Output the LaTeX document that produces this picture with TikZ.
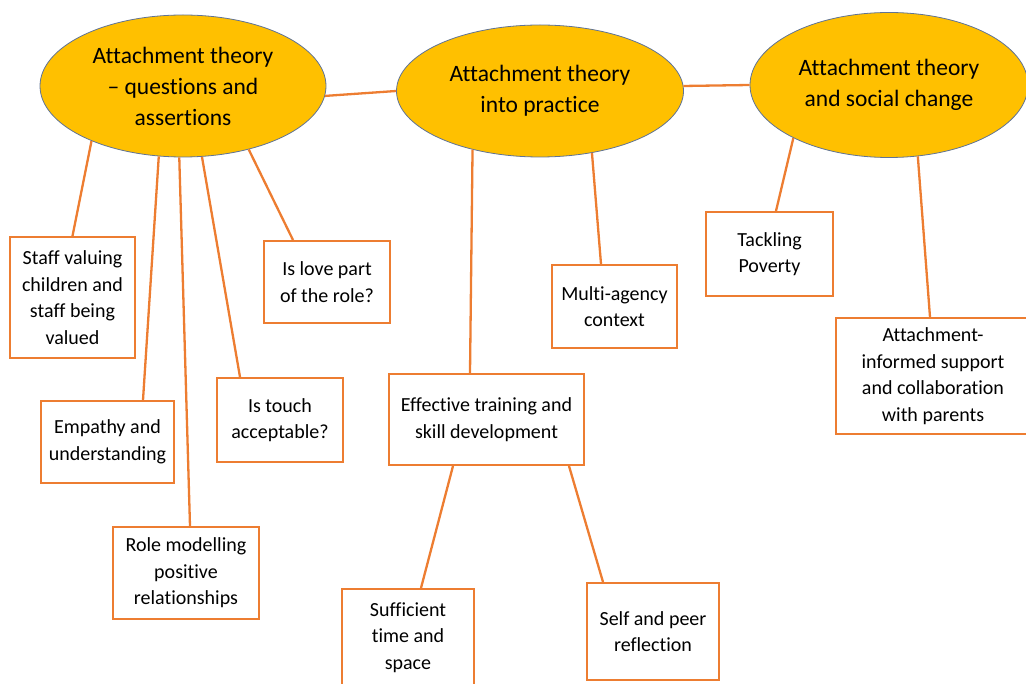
\documentclass[tikz,border=0pt]{standalone}
\usepackage{fontspec}
\setmainfont{Carlito}[Ligatures=NoCommon]
\usetikzlibrary{shapes.geometric}
\definecolor{gold}{RGB}{255,192,0}
\definecolor{rim}{RGB}{95,115,150}
\definecolor{tangerine}{RGB}{237,125,49}
\begin{document}
\begin{tikzpicture}[x=1pt,y=-1pt,
  theme/.style={ellipse, fill=gold, draw=rim, line width=0.8pt, inner sep=0pt,
    align=center, font=\fontsize{23.5}{31}\selectfont},
  topic/.style={rectangle, draw=tangerine, line width=2pt, fill=white, inner sep=0pt,
    align=center, font=\fontsize{20}{26.5}\selectfont},
  link/.style={draw=tangerine, line width=2.3pt}]
\useasboundingbox (0,0) rectangle (1026,684);

% three themes
\node[theme, minimum width=286pt, minimum height=142pt] (e1) at (183,86)
  {Attachment theory\\– questions and\\assertions};
\node[theme, minimum width=287pt, minimum height=132pt] (e2) at (540,91)
  {Attachment theory\\into practice};
\node[theme, minimum width=278pt, minimum height=145pt] (e3) at (889,85)
  {Attachment theory\\and social change};

% topic boxes
\node[topic, minimum width=125pt, minimum height=121pt] (staff) at (72.5,297.5)
  {Staff valuing\\children and\\staff being\\valued};
\node[topic, minimum width=126pt, minimum height=82pt] (love) at (327,282)
  {Is love part\\of the role?};
\node[topic, minimum width=133pt, minimum height=82pt] (empathy) at (107.5,442)
  {Empathy and\\understanding};
\node[topic, minimum width=126pt, minimum height=84pt] (touch) at (280,420)
  {Is touch\\acceptable?};
\node[topic, minimum width=146pt, minimum height=92pt] (role) at (186,573)
  {Role modelling\\positive\\relationships};
\node[topic, minimum width=125pt, minimum height=83pt] (multi) at (614.5,306.5)
  {Multi-agency\\context};
\node[topic, minimum width=195pt, minimum height=91pt] (train) at (486.5,419.5)
  {Effective training and\\skill development};
\node[topic, minimum width=132pt, minimum height=97pt] (time) at (408,637.5)
  {Sufficient\\time and\\space};
\node[topic, minimum width=132pt, minimum height=97pt] (peer) at (653,631.5)
  {Self and peer\\reflection};
\node[topic, minimum width=127pt, minimum height=84pt] (poverty) at (769.5,254)
  {Tackling\\Poverty};
\node[topic, minimum width=194pt, minimum height=116pt] (parents) at (933,376)
  {Attachment-\\informed support\\and collaboration\\with parents};

% links between themes
\draw[link] (e1.356) -- (e2.west);
\draw[link] (e2.2) -- (e3.west);

% links from the first theme
\draw[link] (e1.211.6) -- (staff.north);
\draw[link] (e1.251.6) -- ([xshift=35.5pt]empathy.north);
\draw[link] (e1.267.6) -- ([xshift=4pt]role.north);
\draw[link] (e1.285.2) -- ([xshift=-40pt]touch.north);
\draw[link] (e1.316.8) -- ([xshift=-34pt]love.north);

% links from the second theme
\draw[link] (e2.221.8) -- ([xshift=-16.5pt]train.north);
\draw[link] (e2.310.5) -- ([xshift=-13.5pt]multi.north);
\draw[link] ([xshift=-33.5pt]train.south) -- ([xshift=13pt]time.north);
\draw[link] ([xshift=82.5pt]train.south) -- ([xshift=-50pt]peer.north);

% links from the third theme
\draw[link] (e3.209.2) -- ([xshift=6.5pt]poverty.north);
\draw[link] (e3.292) -- ([xshift=-3pt]parents.north);
\end{tikzpicture}
\end{document}
